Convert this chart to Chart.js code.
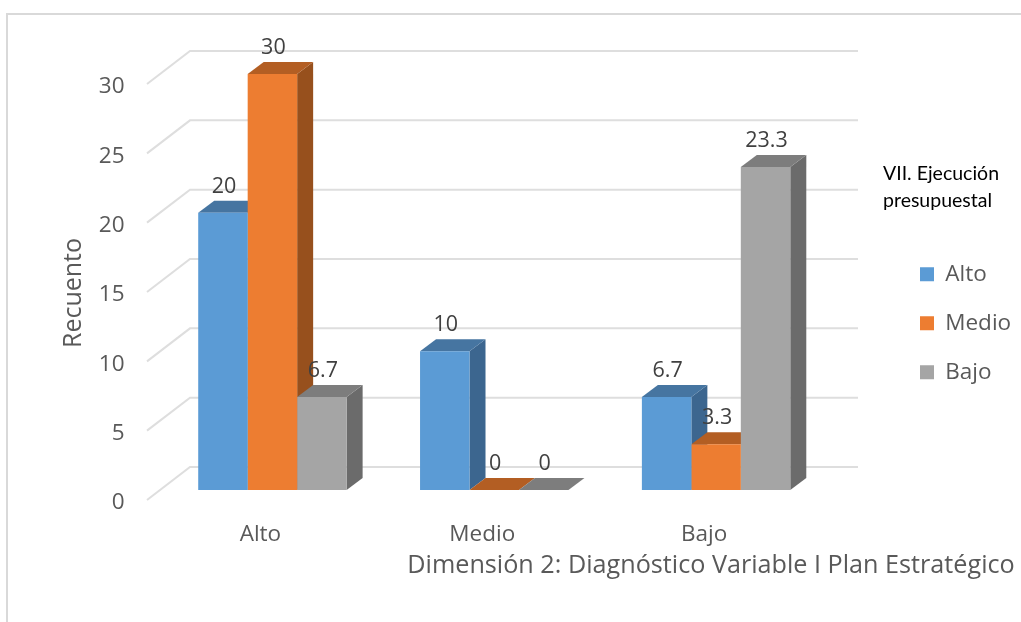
<!DOCTYPE html>
<html><head><meta charset="utf-8">
<script src="https://cdn.jsdelivr.net/npm/chart.js@4/dist/chart.umd.js"></script>
<style>html,body{margin:0;padding:0;background:#fff}canvas{display:block}</style>
</head><body>
<canvas id="c" width="1021" height="622"></canvas>
<script>
const categories = ['Alto', 'Medio', 'Bajo'];
const altoValues = [20, 10, 6.7];
const medioValues = [30, 0, 3.3];
const bajoValues = [6.7, 0, 23.3];
const yTickStep = 5;
const yMax = 30;
const xTitle = 'Dimensión 2: Diagnóstico Variable I Plan Estratégico';
const yTitle = 'Recuento';
const legendTitleLines = ['VII. Ejecución', 'presupuestal'];

const faces = [
  {front: '#5B9BD5', top: '#4675A1', side: '#3C668F'},
  {front: '#ED7D31', top: '#B35E23', side: '#97501D'},
  {front: '#A5A5A5', top: '#7D7D7D', side: '#6B6B6B'}
];
const SANS = '"Open Sans", sans-serif';
const GREY = '#595959';
const BAR_DX = 16, BAR_DY = -12;
const WALL_DX = 43, WALL_DY = -33, WALL_FRONT_DY = 10, WALL_LEFT = 147, WALL_RIGHT = 858;

function poly(ctx, pts, fill) {
  ctx.beginPath();
  pts.forEach((p, i) => i ? ctx.lineTo(p[0], p[1]) : ctx.moveTo(p[0], p[1]));
  ctx.closePath();
  ctx.fillStyle = fill;
  ctx.fill();
}

const threeD = {
  id: 'threeD',
  afterLayout(chart) {
    const lg = chart.legend;
    const w = lg.right - lg.left;
    lg.left = 893.5; lg.right = lg.left + w + 200;
    lg.top = 236.5; lg.bottom = 622;
    lg.width = lg.right - lg.left; lg.height = lg.bottom - lg.top;
  },
  beforeDraw(chart) {
    const ctx = chart.ctx;
    ctx.save();
    ctx.fillStyle = '#fff';
    ctx.fillRect(0, 0, chart.width, chart.height);
    ctx.strokeStyle = '#D9D9D9';
    ctx.lineWidth = 2;
    ctx.beginPath();
    ctx.moveTo(7, 622); ctx.lineTo(7, 14); ctx.lineTo(1021, 14);
    ctx.stroke();
    ctx.restore();
  },
  beforeDatasetsDraw(chart) {
    const ctx = chart.ctx, y = chart.scales.y;
    ctx.save();
    // back wall and side wall grid
    ctx.strokeStyle = '#DEDEDE';
    ctx.lineWidth = 2;
    y.ticks.forEach(t => {
      const py = y.getPixelForValue(t.value) + WALL_FRONT_DY;
      ctx.beginPath();
      ctx.moveTo(WALL_LEFT, py);
      ctx.lineTo(WALL_LEFT + WALL_DX, py + WALL_DY);
      ctx.lineTo(WALL_RIGHT, py + WALL_DY);
      ctx.stroke();
    });
    // side and top faces of the bars
    categories.forEach((_, ci) => {
      faces.forEach((f, di) => {
        const b = chart.getDatasetMeta(di).data[ci];
        const half = b.width / 2, l = b.x - half, r = b.x + half, t = b.y, base = b.base;
        poly(ctx, [[r, t], [r + BAR_DX, t + BAR_DY], [r + BAR_DX, base + BAR_DY], [r, base]], f.side);
        poly(ctx, [[l, t], [l + BAR_DX, t + BAR_DY], [r + BAR_DX, t + BAR_DY], [r, t]], f.top);
      });
    });
    ctx.restore();
  },
  afterDatasetsDraw(chart) {
    const ctx = chart.ctx;
    ctx.save();
    ctx.font = '21.5px ' + SANS;
    ctx.fillStyle = '#404040';
    ctx.textAlign = 'center';
    ctx.textBaseline = 'middle';
    chart.data.datasets.forEach((ds, di) => {
      chart.getDatasetMeta(di).data.forEach((b, i) => {
        ctx.fillText(String(ds.data[i]), b.x + 1, b.y - 26);
      });
    });
    // axis titles
    ctx.fillStyle = GREY;
    ctx.font = '25.2px ' + SANS;
    ctx.fillText(xTitle, 711, 566);
    ctx.save();
    ctx.translate(74, 293);
    ctx.rotate(-Math.PI / 2);
    ctx.font = '25px ' + SANS;
    ctx.fillText(yTitle, 0, 0);
    ctx.restore();
    // legend heading
    ctx.fillStyle = '#000';
    ctx.textAlign = 'left';
    ctx.font = '19.5px Lato, ' + SANS;
    legendTitleLines.forEach((ln, i) => ctx.fillText(ln, 883, 174 + i * 27));
    ctx.restore();
  }
};

new Chart(document.getElementById('c'), {
  type: 'bar',
  data: {
    labels: categories,
    datasets: [
      {label: 'Alto', data: altoValues, backgroundColor: faces[0].front},
      {label: 'Medio', data: medioValues, backgroundColor: faces[1].front},
      {label: 'Bajo', data: bajoValues, backgroundColor: faces[2].front}
    ]
  },
  options: {
    responsive: false,
    animation: false,
    barPercentage: 1,
    categoryPercentage: 0.669,
    layout: {padding: {left: 0, top: 74, right: 194, bottom: 0}},
    scales: {
      x: {
        grid: {display: false},
        border: {display: false},
        afterFit(s) { s.height = 132; },
        ticks: {color: GREY, font: {family: SANS, size: 22.5}, padding: 23, labelOffset: -12, maxRotation: 0}
      },
      y: {
        min: 0, max: yMax,
        grid: {display: false},
        border: {display: false},
        afterFit(s) { s.width = 161.5; },
        ticks: {stepSize: yTickStep, color: GREY, font: {family: SANS, size: 22.5}, padding: 29, labelOffset: 13}
      }
    },
    plugins: {
      tooltip: {enabled: false},
      legend: {
        position: 'chartArea',
        align: 'start',
        labels: {boxWidth: 14, boxHeight: 14, padding: 26.5, color: GREY, font: {family: SANS, size: 22.5}}
      }
    }
  },
  plugins: [threeD]
});
</script>
</body></html>
